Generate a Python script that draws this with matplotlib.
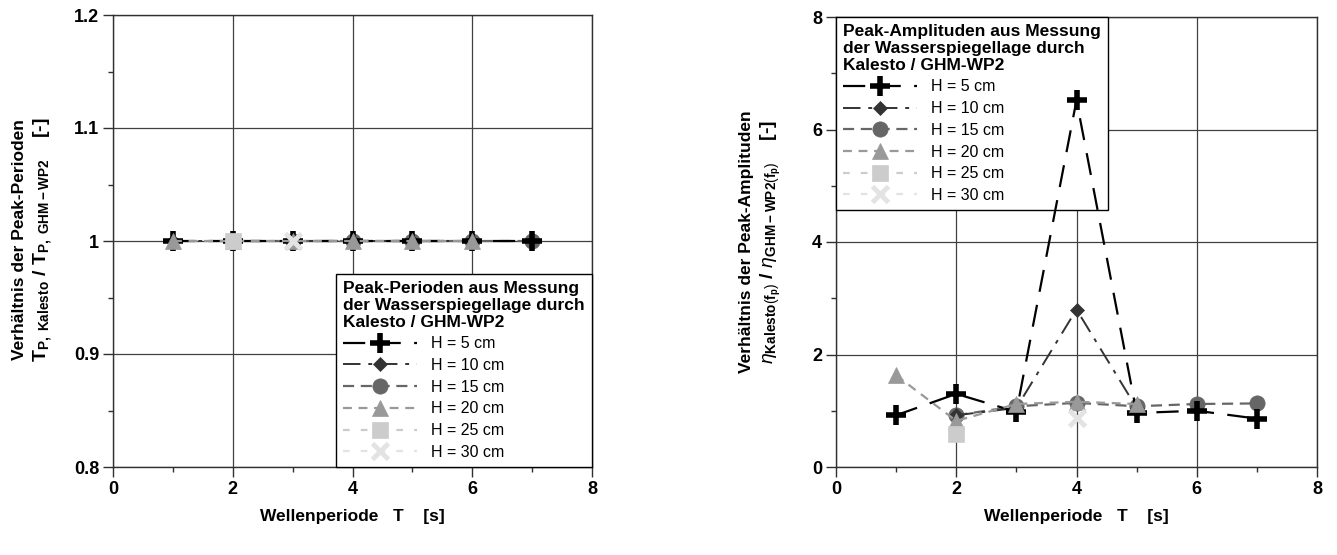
import numpy as np
import matplotlib
matplotlib.use("Agg")
import matplotlib.pyplot as plt
from matplotlib.ticker import MultipleLocator

plt.rcParams['font.family'] = ['Liberation Sans', 'DejaVu Sans']
plt.rcParams['mathtext.fontset'] = 'custom'
plt.rcParams['mathtext.rm'] = 'Liberation Sans'
plt.rcParams['mathtext.bf'] = 'Liberation Sans:bold'
plt.rcParams['mathtext.it'] = 'Liberation Sans:italic'
plt.rcParams['mathtext.sf'] = 'Liberation Sans'

nan = np.nan
T = [1, 2, 3, 4, 5, 6, 7]
labels = ["H = 5 cm", "H = 10 cm", "H = 15 cm", "H = 20 cm", "H = 25 cm", "H = 30 cm"]

# left: peak period ratio
per_H5 = [1.0, 1.0, 1.0, 1.0, 1.0, 1.0, 1.0]
per_H10 = [1.0, 1.0, 1.0, 1.0, 1.0, 1.0, nan]
per_H15 = [nan, 1.0, 1.0, 1.0, 1.0, 1.0, 1.0]
per_H20 = [1.0, 1.0, 1.0, 1.0, 1.0, 1.0, nan]
per_H25 = [nan, 1.0, nan, nan, nan, nan, nan]
per_H30 = [nan, nan, 1.0, nan, nan, nan, nan]

# right: peak amplitude ratio
amp_H5 = [0.92, 1.30, 0.98, 6.52, 0.96, 1.00, 0.86]
amp_H10 = [nan, 0.92, 1.05, 2.80, 1.05, nan, nan]
amp_H15 = [nan, 0.92, 1.08, 1.14, 1.08, 1.12, 1.13]
amp_H20 = [1.63, 0.82, 1.12, 1.16, 1.12, nan, nan]
amp_H25 = [nan, 0.58, nan, nan, nan, nan, nan]
amp_H30 = [nan, nan, nan, 0.88, nan, nan, nan]

styles = [
    dict(color='black', marker='+', ms=14, mew=4.0, ls=(0, (10, 6)), lw=1.6, z=5),
    dict(color='#333333', marker='D', ms=7.5, mew=0.5, ls=(0, (9, 4, 2, 4)), lw=1.4, z=4),
    dict(color='#666666', marker='o', ms=11, mew=0.5, ls=(0, (5, 3)), lw=1.6, z=3),
    dict(color='#999999', marker='^', ms=11, mew=0.5, ls=(0, (4, 3)), lw=1.6, z=6),
    dict(color='#cccccc', marker='s', ms=11, mew=0.5, ls=(0, (3, 5)), lw=1.6, z=7),
    dict(color='#e3e3e3', marker='x', ms=11, mew=3.5, ls=(0, (3, 5)), lw=1.6, z=8),
]

fig = plt.figure(figsize=(13.37, 5.55), dpi=100)
axL = fig.add_axes([113/1337, 88/555, 479/1337, 452/555])
axR = fig.add_axes([836/1337, 88/555, 481/1337, 450/555])

TICK_FS = 13
LAB_FS = 12.5


def style_axes(ax, ylim, ymaj, ymin):
    ax.set_xlim(0, 8)
    ax.set_ylim(*ylim)
    ax.xaxis.set_major_locator(MultipleLocator(2))
    ax.xaxis.set_minor_locator(MultipleLocator(1))
    ax.yaxis.set_major_locator(MultipleLocator(ymaj))
    ax.yaxis.set_minor_locator(MultipleLocator(ymin))
    ax.grid(True, which='major', color='#404040', lw=0.9, zorder=0)
    ax.set_axisbelow(True)
    for s in ax.spines.values():
        s.set_color('#303030')
        s.set_linewidth(1.0)
    ax.tick_params(which='major', direction='out', length=7, width=1,
                   labelsize=TICK_FS, pad=3, color='#303030')
    ax.tick_params(which='minor', direction='out', length=3.5, width=1, color='#303030')
    for lab in ax.get_xticklabels() + ax.get_yticklabels():
        lab.set_fontweight('bold')
    ax.set_xlabel("Wellenperiode   T    [s]", fontsize=LAB_FS, fontweight='bold', labelpad=8)


def draw(ax, series):
    hs = []
    for vals, st, lab in zip(series, styles, labels):
        h, = ax.plot(T, vals, color=st['color'], marker=st['marker'], ms=st['ms'],
                     ls=st['ls'], lw=st['lw'], zorder=st['z'], label=lab,
                     markeredgewidth=st['mew'], markeredgecolor=st['color'])
        hs.append(h)
    return hs


style_axes(axL, (0.8, 1.2), 0.1, 0.05)
axL.set_yticks([0.8, 0.9, 1.0, 1.1, 1.2])
axL.set_yticklabels(['0.8', '0.9', '1', '1.1', '1.2'], fontweight='bold')
hL = draw(axL, [per_H5, per_H10, per_H15, per_H20, per_H25, per_H30])

style_axes(axR, (0, 8), 2, 1)
hR = draw(axR, [amp_H5, amp_H10, amp_H15, amp_H20, amp_H25, amp_H30])

leg_kw = dict(prop={'size': 11.5}, title_fontproperties={'weight': 'bold', 'size': 12.5},
              alignment='left', handlelength=4.6, handletextpad=0.9, labelspacing=0.42,
              borderpad=0.45, borderaxespad=0, fancybox=False, framealpha=1,
              edgecolor='black', numpoints=1)
legL = axL.legend(handles=hL, loc='lower right',
                  title="Peak-Perioden aus Messung\nder Wasserspiegellage durch\nKalesto / GHM-WP2",
                  **leg_kw)
legR = axR.legend(handles=hR, loc='upper left',
                  title="Peak-Amplituden aus Messung\nder Wasserspiegellage durch\nKalesto / GHM-WP2",
                  **leg_kw)
for leg in (legL, legR):
    leg.get_frame().set_linewidth(1.0)
    leg.get_title().set_linespacing(1.15)
    leg.set_zorder(2.5)

# y labels
fig.text(20/1337, 1 - 240/555, "Verhältnis der Peak-Perioden", rotation=90,
         ha='center', va='center', fontsize=LAB_FS, fontweight='bold')
fig.text(43/1337, 1 - 240/555,
         r"$\mathbf{T}_{\mathbf{P,\ Kalesto}}\ \mathbf{/}\ \mathbf{T}_{\mathbf{P,\ GHM-WP2}}$    [-]",
         rotation=90, ha='center', va='center', fontsize=14, fontweight='bold')

fig.text(747/1337, 1 - 242/555, "Verhältnis der Peak-Amplituden", rotation=90,
         ha='center', va='center', fontsize=LAB_FS, fontweight='bold')
fig.text(771/1337, 1 - 242/555,
         r"$\eta_{\mathbf{Kalesto}(\mathbf{f}_{\mathbf{p}})}\ \mathbf{/}\ \eta_{\mathbf{GHM-WP2}(\mathbf{f}_{\mathbf{p}})}$    [-]",
         rotation=90, ha='center', va='center', fontsize=14, fontweight='bold')

fig.savefig("out.png", dpi=100)
